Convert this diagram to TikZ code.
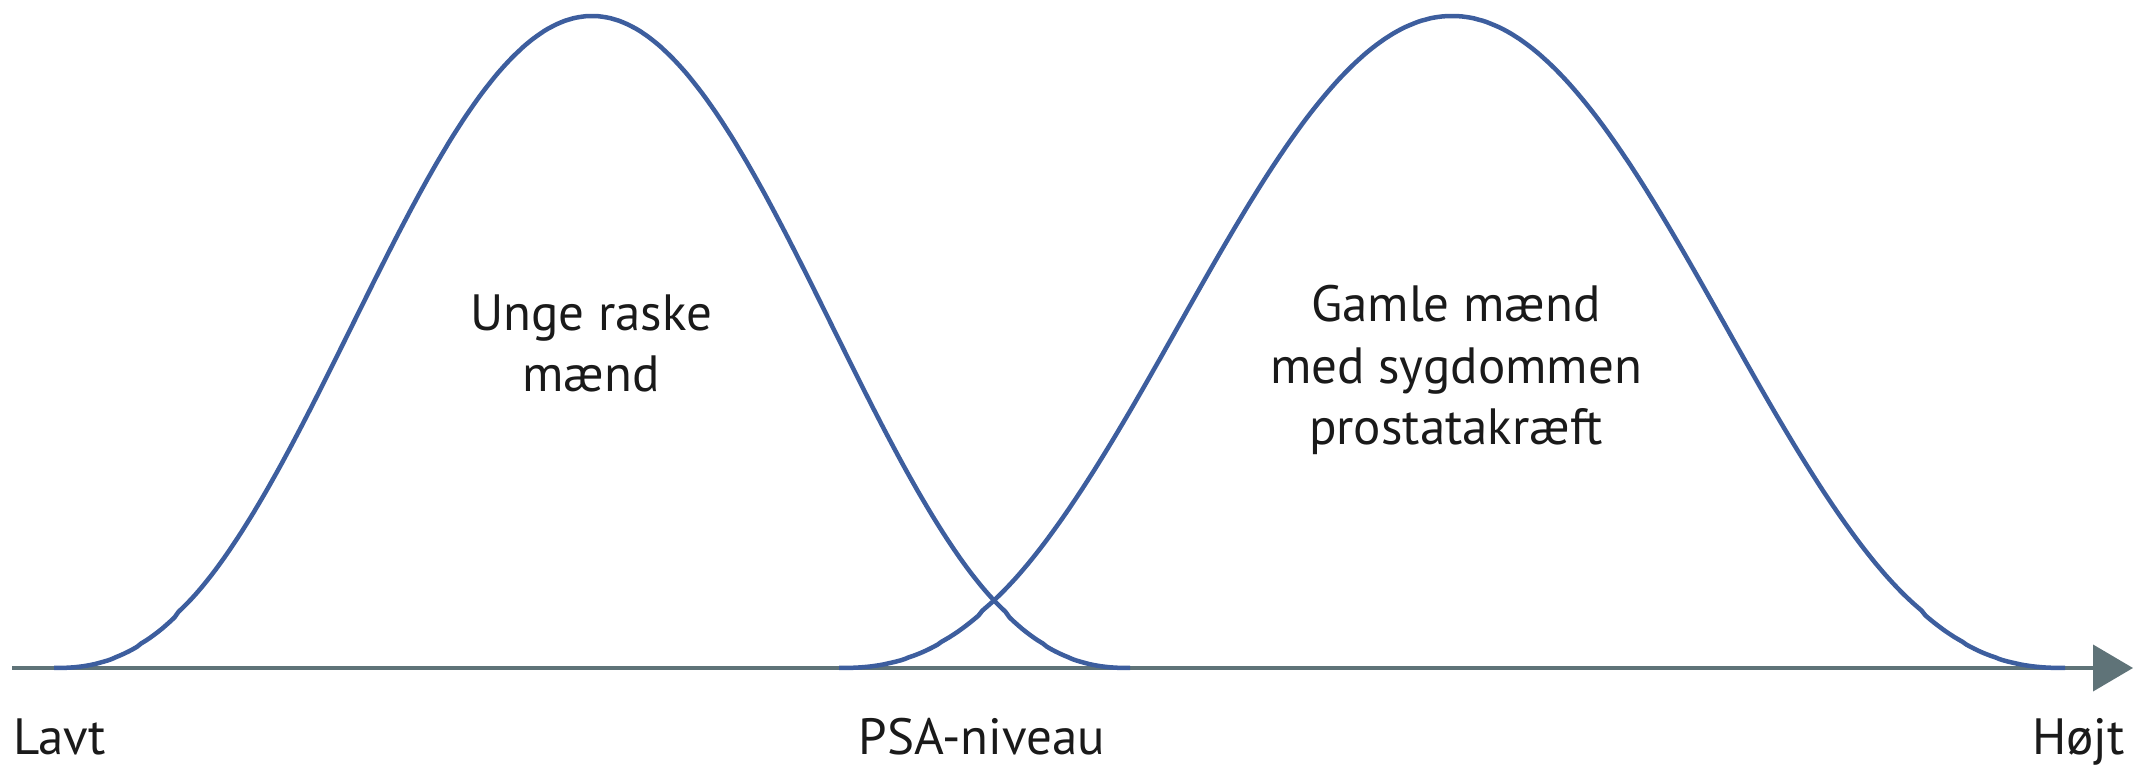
\documentclass[tikz,border=0pt]{standalone}
\usepackage{fontspec}
\setmainfont{PT Sans}
\usetikzlibrary{arrows.meta}
\definecolor{curveblue}{HTML}{3D5E9E}
\definecolor{axisgray}{HTML}{5F7378}
\definecolor{labelink}{HTML}{1A1A1A}
\begin{document}
\begin{tikzpicture}[x=1pt,y=1pt,
  bell/.style={draw=curveblue, line width=4.5pt},
  axisline/.style={draw=axisgray, line width=4pt, -{Triangle[length=40pt,width=46pt]}},
  lbl/.style={font=\fontsize{51}{61.5}\selectfont, text=labelink, inner sep=0pt, align=center}]
\useasboundingbox (0,0) rectangle (2152,765);

% horizontal PSA axis
\coordinate (axstart) at (12,97);
\coordinate (axend) at (2133,97);
\draw[axisline] (axstart) -- (axend);

% distribution of young healthy men
\draw[bell] plot[domain=54:1130, samples=260]
  (\x, {97+652*pow((1+cos(((\x-592)/538)*180))/2+0.00001,1.2)});
% distribution of older men with prostate cancer
\draw[bell] plot[domain=839:2065, samples=300]
  (\x, {97+652*pow((1+cos(((\x-1452)/613)*180))/2+0.00001,1.2)});

% axis labels
\node[lbl, anchor=base west] (low) at (13,10) {Lavt};
\node[lbl, anchor=base] (psa) at (982,10) {PSA-niveau};
\node[lbl, anchor=base east] (high) at (2125,10) {Højt};

% group labels (anchored at the baseline of their last line)
\node[lbl, anchor=base] (young) at (591,373) {Unge raske\\mænd};
\node[lbl, anchor=base] (old) at (1456,320) {Gamle mænd\\med sygdommen\\prostatakræft};
\end{tikzpicture}
\end{document}
